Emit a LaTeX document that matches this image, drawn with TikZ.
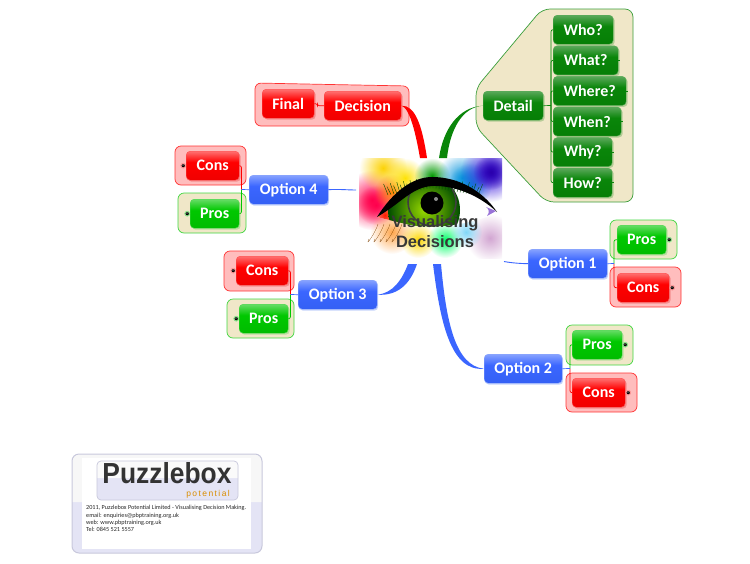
\documentclass[tikz,border=0pt]{standalone}
\usepackage{fontspec}
\setmainfont{Carlito}
\newfontfamily\logofont{Liberation Sans}
\usetikzlibrary{positioning}
\usetikzlibrary{calc}
\usetikzlibrary{shadows}
\usetikzlibrary{fadings}
\definecolor{bluetop}{HTML}{86A2FF}
\definecolor{bluemid}{HTML}{3B66FF}
\definecolor{bluelow}{HTML}{3460F4}
\definecolor{blueshade}{HTML}{C6D4FA}
\definecolor{redtop}{HTML}{FF7070}
\definecolor{redmid}{HTML}{FF0000}
\definecolor{redlow}{HTML}{F00000}
\definecolor{redshade}{HTML}{F58E8E}
\definecolor{limetop}{HTML}{66DC66}
\definecolor{limemid}{HTML}{00C800}
\definecolor{limelow}{HTML}{00BC00}
\definecolor{limeshade}{HTML}{BBDDA0}
\definecolor{leaftop}{HTML}{5AA85A}
\definecolor{leafmid}{HTML}{0A860A}
\definecolor{leaflow}{HTML}{067E06}
\definecolor{leafshade}{HTML}{B5CC96}
\definecolor{sand}{HTML}{F0E7C8}
\definecolor{pinkzone}{HTML}{FFBDBD}
\definecolor{lavender}{HTML}{E4E4F5}
\definecolor{cardline}{HTML}{C8C8DC}
\pgfdeclareverticalshading{bluegloss}{100bp}{color(0bp)=(bluelow); color(25bp)=(bluelow); color(56bp)=(bluemid); color(75bp)=(bluetop); color(100bp)=(bluetop)}
\pgfdeclareverticalshading{redgloss}{100bp}{color(0bp)=(redlow); color(25bp)=(redlow); color(56bp)=(redmid); color(75bp)=(redtop); color(100bp)=(redtop)}
\pgfdeclareverticalshading{limegloss}{100bp}{color(0bp)=(limelow); color(25bp)=(limelow); color(56bp)=(limemid); color(75bp)=(limetop); color(100bp)=(limetop)}
\pgfdeclareverticalshading{leafgloss}{100bp}{color(0bp)=(leaflow); color(25bp)=(leaflow); color(56bp)=(leafmid); color(75bp)=(leaftop); color(100bp)=(leaftop)}
\tikzfading[name=blob, inner color=transparent!0, outer color=transparent!100]
\tikzset{
  topic/.style={rounded corners=4pt, anchor=north west, inner sep=0pt, minimum height=29pt,
    text=white, font=\fontsize{16}{16}\selectfont\bfseries},
  bluetopic/.style={topic, draw=blueshade!60!bluemid, shading=bluegloss,
    drop shadow={shadow xshift=1pt, shadow yshift=-1.5pt, fill=blueshade, opacity=1}},
  redtopic/.style={topic, draw=redmid!70!white, shading=redgloss,
    drop shadow={shadow xshift=1.5pt, shadow yshift=-1.5pt, fill=redshade, opacity=1}},
  limetopic/.style={topic, draw=limemid!70!white, shading=limegloss,
    drop shadow={shadow xshift=1.5pt, shadow yshift=-1.5pt, fill=limeshade, opacity=1}},
  leaftopic/.style={topic, draw=leafmid!70!white, shading=leafgloss,
    drop shadow={shadow xshift=1.5pt, shadow yshift=-1.5pt, fill=leafshade, opacity=1}},
  redzone/.style={draw=red!80!white, fill=pinkzone, rounded corners=6pt, line width=.7pt},
  limezone/.style={draw=limemid!75!white, fill=sand, rounded corners=6pt, line width=.7pt},
  expander/.style={circle, fill=black, inner sep=0pt, minimum size=4.6pt, text=white,
    font=\fontsize{3}{3}\selectfont\bfseries, text height=1.5pt, text depth=0pt},
  redhalo/.style={expander, draw=red!40!white, line width=1pt},
  limehalo/.style={expander, draw=limemid!45!white, line width=1pt},
  link/.style={line width=.7pt, rounded corners=2pt},
}
\begin{document}
\begin{tikzpicture}[x=1pt, y=-1pt]
  \useasboundingbox (0,0) rectangle (750,563);

  \draw[limezone, draw=leafmid!80!white, rounded corners=8pt] (590,9) -- (633,9) -- (633,202) -- (546,202) -- (476,127) -- (476,88) -- (542,9) -- cycle;
  \draw[redzone] (330,84.5) -- (409,86) -- (409,126) -- (255,126) -- (255,83) -- cycle;
  \draw[redzone] (175,146) rectangle (246,185);
  \draw[limezone] (178,193) rectangle (246,233);
  \draw[redzone] (224,251) rectangle (294,291);
  \draw[limezone] (227,299) rectangle (294,338);
  \draw[limezone] (610,220) rectangle (677,259);
  \draw[redzone] (610,267) rectangle (681,307);
  \draw[limezone] (566,325) rectangle (633,365);
  \draw[redzone] (566,373) rectangle (637,412);

  \node[inner sep=0pt, minimum width=145pt, minimum height=100pt] (eye) at (429.5,208) {};
  \begin{scope}
    \clip (359,158) rectangle (502,258);
    \fill[red!70!magenta, path fading=blob] (372,200) circle (30);
    \fill[red!70!magenta, path fading=blob] (376,205) circle (20);
    \fill[yellow!70!orange, path fading=blob] (383,168) circle (24);
    \fill[orange, path fading=blob] (392,192) circle (18);
    \fill[yellow!85!orange, path fading=blob] (405,178) circle (20);
    \fill[green!60!black, path fading=blob] (432,176) circle (18);
    \fill[cyan!80!blue, path fading=blob] (462,178) circle (26);
    \fill[cyan!80!blue, path fading=blob] (470,185) circle (22);
    \fill[blue!70!violet, path fading=blob] (490,172) circle (30);
    \fill[blue!60!violet!85!black, path fading=blob] (491,172) circle (18);
    \fill[violet!35!white, path fading=blob] (490,238) circle (24);
    \fill[orange!70!white, path fading=blob] (392,232) circle (22);
    \fill[yellow!75!orange, path fading=blob] (418,240) circle (18);
    \fill[green!60!cyan, path fading=blob] (445,240) circle (18);
    \fill[cyan!50!white, path fading=blob] (466,232) circle (16);
    \begin{scope}
      \clip (377,217) .. controls (400,190) and (415,182) .. (432,182) .. controls (460,182) and (480,195) .. (497,212) .. controls (480,222) and (440,230) .. (410,225) -- cycle;
      \fill[white] (370,175) rectangle (500,235);
      \fill[red!80!orange, path fading=blob] (385,215) circle (22);
      \fill[orange, path fading=blob] (400,212) circle (16);
      \shade[inner color=yellow!70!green!85!black, outer color=green!30!black] (424,210) circle (36);
      \draw[black!75, line width=1.6pt] (432,202) circle (24);
      \fill[black] (432,203) circle (11.5);
      \fill[black!45] (436,199) circle (2);
    \end{scope}
    \foreach \lashx in {388,391,...,478} {
      \draw[black!70!green, line width=.4pt] (\lashx,{188+abs(\lashx-432)*.16}) -- ++({(\lashx-432)*.1},{-7-mod(\lashx*7,6)});
    }
    \foreach \lashx in {378,384,...,402} {
      \draw[orange!50!black, line width=.2pt] (\lashx,224) .. controls ++(-2,8) and ++(-5,10) .. ++(-9,15);
    }
    \fill[black] (377,217) .. controls (392,193) and (412,177) .. (432,177) .. controls (458,177) and (482,190) .. (497,212) .. controls (480,196) and (455,185) .. (432,186) .. controls (412,187) and (400,204) .. (377,217) -- cycle;
    \fill[blue!45!violet!55!white] (486,207) -- (496,211) -- (487,216) .. controls (490,212) and (489,209) .. (486,207) -- cycle;
  \end{scope}
  \node[inner sep=0pt, text=black!78, align=center, font=\logofont\fontsize{16.5}{20}\selectfont\bfseries] (eyetitle) at (435,232) {Visualising\\Decisions};

  \node[redtopic, minimum width=77pt] (decision) at (324,91) {Decision};
  \node[redtopic, minimum width=52pt] (final) at (262,89) {Final};
  \node[bluetopic, minimum width=79pt] (option4) at (249,175) {Option 4};
  \node[redtopic, minimum width=53pt] (cons4) at (186,151) {Cons};
  \node[limetopic, minimum width=49pt] (pros4) at (190,199) {Pros};
  \node[bluetopic, minimum width=79pt] (option3) at (298,280) {Option 3};
  \node[redtopic, minimum width=52pt] (cons3) at (236,256) {Cons};
  \node[limetopic, minimum width=49pt] (pros3) at (239,304) {Pros};
  \node[bluetopic, minimum width=79pt] (option1) at (528,249) {Option 1};
  \node[limetopic, minimum width=49pt] (pros1) at (617,225) {Pros};
  \node[redtopic, minimum width=52pt] (cons1) at (617,273) {Cons};
  \node[bluetopic, minimum width=78pt] (option2) at (484,354) {Option 2};
  \node[limetopic, minimum width=50pt] (pros2) at (572,330) {Pros};
  \node[redtopic, minimum width=53pt] (cons2) at (572,378) {Cons};
  \node[leaftopic, minimum width=60pt] (detail) at (483,91) {Detail};
  \node[leaftopic, minimum width=60pt] (who) at (553,15) {Who?};
  \node[leaftopic, minimum width=65pt, below=1.2pt of who.south west, anchor=north west] (what) {What?};
  \node[leaftopic, minimum width=73pt, below=1.2pt of what.south west, anchor=north west] (where) {Where?};
  \node[leaftopic, minimum width=68pt, below=1.2pt of where.south west, anchor=north west] (when) {When?};
  \node[leaftopic, minimum width=59pt, below=1.2pt of when.south west, anchor=north west] (why) {Why?};
  \node[leaftopic, minimum width=59pt, below=1.2pt of why.south west, anchor=north west] (how) {How?};

  \node[redhalo, left=0pt of cons4] (plus4c) {+};
  \node[limehalo, left=0pt of pros4] (plus4p) {+};
  \node[redhalo, left=0pt of cons3] (plus3c) {+};
  \node[limehalo, left=0pt of pros3] (plus3p) {+};
  \node[limehalo, right=0pt of pros1] (plus1p) {+};
  \node[redhalo, right=0pt of cons1] (plus1c) {+};
  \node[limehalo, right=0pt of pros2] (plus2p) {+};
  \node[redhalo, right=0pt of cons2] (plus2c) {+};

  \coordinate (redleft) at (420,158);
  \coordinate (redright) at (427,158);
  \coordinate (greenleft) at (439,158);
  \coordinate (greenright) at (447,158);
  \coordinate (twoleft) at (433,264);
  \coordinate (tworight) at (441,264);
  \coordinate (threeleft) at (408,264);
  \coordinate (threeright) at (417,264);
  \coordinate (onestart) at (504,261.5);
  \coordinate (fourstart) at (356,190);

  \fill[red] (decision.east) .. controls (415,105) and (422,125) .. (redright) -- (redleft) .. controls (416,135) and (410,108) .. (decision.east) -- cycle;
  \fill[leafmid] (detail.west) .. controls (462,107) and (450,130) .. (greenright) -- (greenleft) .. controls (443,130) and (458,107) .. (detail.west) -- cycle;
  \fill[bluemid] (option2.west) .. controls (455,366) and (446,320) .. (tworight) -- (twoleft) .. controls (440,320) and (450,372) .. (option2.west) -- cycle;
  \fill[bluemid] (option3.east) .. controls (397,296) and (410,285) .. (threeright) -- (threeleft) .. controls (402,280) and (393,293) .. (option3.east) -- cycle;
  \draw[bluemid, line width=.9pt] (onestart) .. controls (512,263) and (520,263.5) .. (option1.west);
  \draw[bluemid, line width=.9pt] (option4.east) .. controls (338,189) and (348,190) .. (fourstart);

  \draw[red, link] (final.east) -- ++(3,0) |- (decision.west);

  \coordinate (bus4) at (241.5,189.5);
  \draw[red, link] (bus4) |- (cons4.east);
  \draw[limemid, link] (bus4) |- (pros4.east);
  \draw[bluemid, link] (option4.west) -- (bus4);
  \coordinate (bus3) at (290.5,294.5);
  \draw[red, link] (bus3) |- (cons3.east);
  \draw[limemid, link] (bus3) |- (pros3.east);
  \draw[bluemid, link] (option3.west) -- (bus3);
  \coordinate (bus1) at (614,263.5);
  \draw[limemid, link] (bus1) |- (pros1.west);
  \draw[red, link] (bus1) |- (cons1.west);
  \draw[bluemid, link] (option1.east) -- (bus1);
  \coordinate (bus2) at (570,368.5);
  \draw[limemid, link] (bus2) |- (pros2.west);
  \draw[red, link] (bus2) |- (cons2.west);
  \draw[bluemid, link] (option2.east) -- (bus2);

  \coordinate (busd) at (551,105.5);
  \draw[leafmid, link] (detail.east) -- (busd);
  \draw[leafmid, link] (busd) |- (who.west);
  \draw[leafmid, link] (busd) |- (what.west);
  \draw[leafmid, link] (busd) |- (where.west);
  \draw[leafmid, link] (busd) |- (when.west);
  \draw[leafmid, link] (busd) |- (why.west);
  \draw[leafmid, link] (busd) |- (how.west);
  \draw[leafmid, line width=.5pt] (what.east) -- ++(2,0);
  \draw[leafmid, line width=.5pt] (where.east) -- ++(2,0);
  \draw[leafmid, line width=.5pt] (when.east) -- ++(2,0);
  \draw[leafmid, line width=.5pt] (why.east) -- ++(2,0);
  \draw[leafmid, line width=.5pt] (how.east) -- ++(2,0);

  \fill[lavender, rounded corners=7pt] (72,454) rectangle (262,553);
  \fill[white!97!black] (72,502) [rounded corners=7pt] -- (72,454) -- (262,454) [sharp corners] -- (262,502) -- cycle;
  \draw[cardline, line width=1pt, rounded corners=7pt] (72,454) rectangle (262,553);
  \fill[white] (82,458) rectangle (251,549);
  \fill[lavender, rounded corners=4pt] (97,461) rectangle (238,500);
  \fill[white!98!black] (97,478) [rounded corners=4pt] -- (97,461) -- (238,461) [sharp corners] -- (238,478) -- cycle;
  \draw[cardline, line width=.7pt, rounded corners=4pt] (97,461) rectangle (238,500);
  \node[inner sep=0pt, xscale=.91, text=black!80, font=\logofont\fontsize{29}{30}\selectfont\bfseries] (logo) at (167,473.5) {Puzzlebox};
  \node[inner sep=0pt, text=orange!70!yellow!85!black, font=\logofont\fontsize{8.5}{8.5}\selectfont, anchor=east] (potential) at (230,494.5) {p\,o\,t\,e\,n\,t\,i\,a\,l};
  \node[inner sep=0pt, anchor=north west, align=left, text=black!85, font=\fontsize{6.2}{7.35}\selectfont] (contact) at (86,505.2) {2011, Puzzlebox Potential Limited - Visualising Decision Making.\\email: enquiries@pbptraining.org.uk\\web: www.pbptraining.org.uk\\Tel: 0845 521 5557};
\end{tikzpicture}
\end{document}
